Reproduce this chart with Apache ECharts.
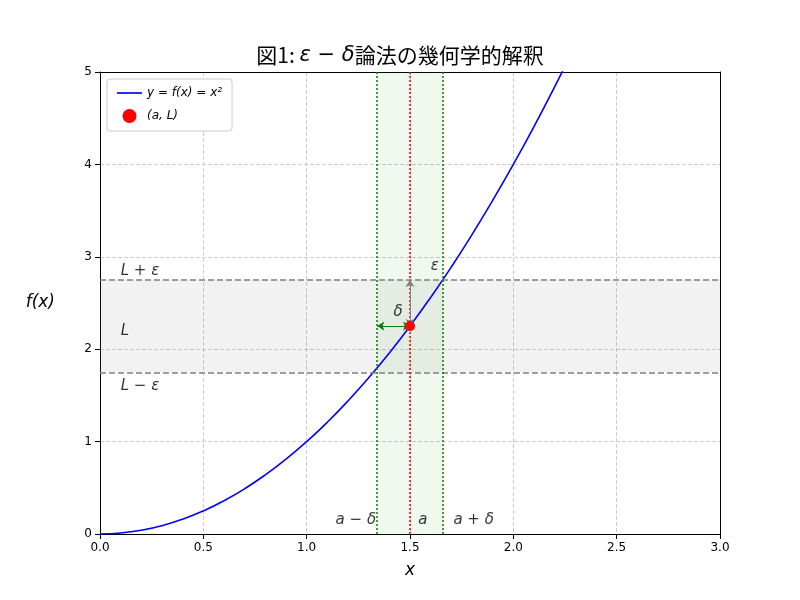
<!DOCTYPE html>
<html><head><meta charset="utf-8">
<script src="https://cdn.jsdelivr.net/npm/echarts@6/dist/echarts.min.js"></script>
<style>body{margin:0}#c{width:800px;height:600px}</style></head>
<body><div id="c"></div>
<script>
var curveX = [0,0.1,0.2,0.3,0.4,0.5,0.6,0.7,0.8,0.9,1.0,1.1,1.2,1.3,1.4,1.5,1.6,1.7,1.8,1.9,2.0,2.1,2.2,2.3];
var curveY = [0,0.01,0.04,0.09,0.16,0.25,0.36,0.49,0.64,0.81,1.0,1.21,1.44,1.69,1.96,2.25,2.56,2.89,3.24,3.61,4.0,4.41,4.84,5.29];
var pointA = [1.5, 2.25];
var epsBand = [1.75, 2.75];
var deltaBand = [1.342, 1.658];

var labels = [
  {v: [0.1, 2.85], t: 'L + ε'},
  {v: [0.1, 2.2], t: 'L'},
  {v: [0.1, 1.6], t: 'L − ε'},
  {v: [1.6, 2.9], t: 'ε'},
  {v: [1.42, 2.4], t: 'δ'},
  {v: [1.14, 0.15], t: 'a − δ'},
  {v: [1.54, 0.15], t: 'a'},
  {v: [1.71, 0.15], t: 'a + δ'}
];

var myChart = echarts.init(document.getElementById('c'));
var F = 'DejaVu Sans';
var option = {
  animation: false,
  title: {
    text: '図1: {i|ε − δ}論法の幾何学的解釈',
    left: 'center', top: 40,
    textStyle: {fontFamily: 'Noto Sans CJK JP', fontSize: 21, fontWeight: 'normal', color: '#000',
      rich: {i: {fontFamily: F, fontStyle: 'italic', fontSize: 21, color: '#000'}}}
  },
  legend: {
    orient: 'vertical', left: 107, top: 79, itemGap: 10,
    borderColor: '#ccc', borderWidth: 1, borderRadius: 3, padding: [8, 10],
    backgroundColor: '#fff',
    textStyle: {fontFamily: F, fontStyle: 'italic', fontSize: 12, color: '#000'},
    data: [{name: 'y = f(x) = x²', icon: 'path://M0,5L30,5L30,7L0,7Z'}, {name: '(a, L)', icon: 'circle'}]
  },
  grid: {left: 100, right: 80, top: 72, bottom: 66},
  xAxis: [{
    type: 'value', min: 0, max: 3, interval: 0.5,
    name: 'x', nameLocation: 'middle', nameGap: 28,
    nameTextStyle: {fontFamily: F, fontStyle: 'italic', fontSize: 17, color: '#000'},
    axisLine: {onZero: false, lineStyle: {color: '#000'}},
    axisTick: {lineStyle: {color: '#000'}},
    axisLabel: {fontFamily: F, fontSize: 12, color: '#000', formatter: function (v) { return v.toFixed(1); }},
    splitLine: {lineStyle: {type: 'dashed', color: '#ccc'}}
  }, {
    type: 'value', min: 0, max: 3, position: 'top',
    axisLine: {show: true, onZero: false, lineStyle: {color: '#000'}},
    axisTick: {show: false}, axisLabel: {show: false}, splitLine: {show: false}
  }],
  yAxis: [{
    type: 'value', min: 0, max: 5, interval: 1,
    name: 'f(x)', nameLocation: 'middle', nameGap: 45, nameRotate: 0,
    nameTextStyle: {fontFamily: F, fontStyle: 'italic', fontSize: 17, color: '#000'},
    axisLine: {show: true, lineStyle: {color: '#000'}},
    axisTick: {show: true, lineStyle: {color: '#000'}},
    axisLabel: {fontFamily: F, fontSize: 12, color: '#000'},
    splitLine: {lineStyle: {type: 'dashed', color: '#ccc'}}
  }, {
    type: 'value', min: 0, max: 5, position: 'right',
    axisLine: {show: true, onZero: false, lineStyle: {color: '#000'}},
    axisTick: {show: false}, axisLabel: {show: false}, splitLine: {show: false}
  }],
  series: [
    {
      name: 'y = f(x) = x²', type: 'line', smooth: true, showSymbol: false,
      lineStyle: {color: '#0000ff', width: 1.6}, itemStyle: {color: '#0000ff'},
      data: curveX.map(function (x, i) { return [x, curveY[i]]; }),
      markArea: {
        silent: true,
        data: [
          [{yAxis: epsBand[0], itemStyle: {color: 'rgba(128,128,128,0.1)'}}, {yAxis: epsBand[1]}],
          [{xAxis: deltaBand[0], itemStyle: {color: 'rgba(0,128,0,0.06)'}}, {xAxis: deltaBand[1]}]
        ]
      },
      markLine: {
        silent: true, symbol: 'none', label: {show: false},
        data: [
          {yAxis: epsBand[0], lineStyle: {color: '#808080', type: [6, 3], width: 1.5}},
          {yAxis: epsBand[1], lineStyle: {color: '#808080', type: [6, 3], width: 1.5}},
          {xAxis: deltaBand[0], lineStyle: {color: 'green', type: [2, 2], width: 1.5}},
          {xAxis: deltaBand[1], lineStyle: {color: 'green', type: [2, 2], width: 1.5}},
          {xAxis: pointA[0], lineStyle: {color: 'red', type: [2, 2], width: 1.5}},
          [{coord: [pointA[0], pointA[1]], symbol: 'arrow', lineStyle: {color: 'gray', type: 'solid', width: 1}},
           {coord: [pointA[0], epsBand[1]], symbol: 'arrow'}],
          [{coord: [deltaBand[0], pointA[1]], symbol: 'arrow', lineStyle: {color: 'green', type: 'solid', width: 1.2}},
           {coord: [pointA[0], pointA[1]], symbol: 'arrow'}]
        ],
        symbolSize: 7
      }
    },
    {
      name: '(a, L)', type: 'scatter', symbolSize: 10, z: 5,
      itemStyle: {color: 'red', opacity: 1}, data: [pointA]
    },
    {
      type: 'scatter', symbolSize: 0, silent: true,
      data: labels.map(function (l) { return {value: l.v, name: l.t}; }),
      label: {show: true, position: 'right', distance: 0,
        formatter: function (p) { return p.name; },
        fontFamily: F, fontStyle: 'italic', fontSize: 15, color: '#000'}
    }
  ]
};
myChart.setOption(option);
</script></body></html>
